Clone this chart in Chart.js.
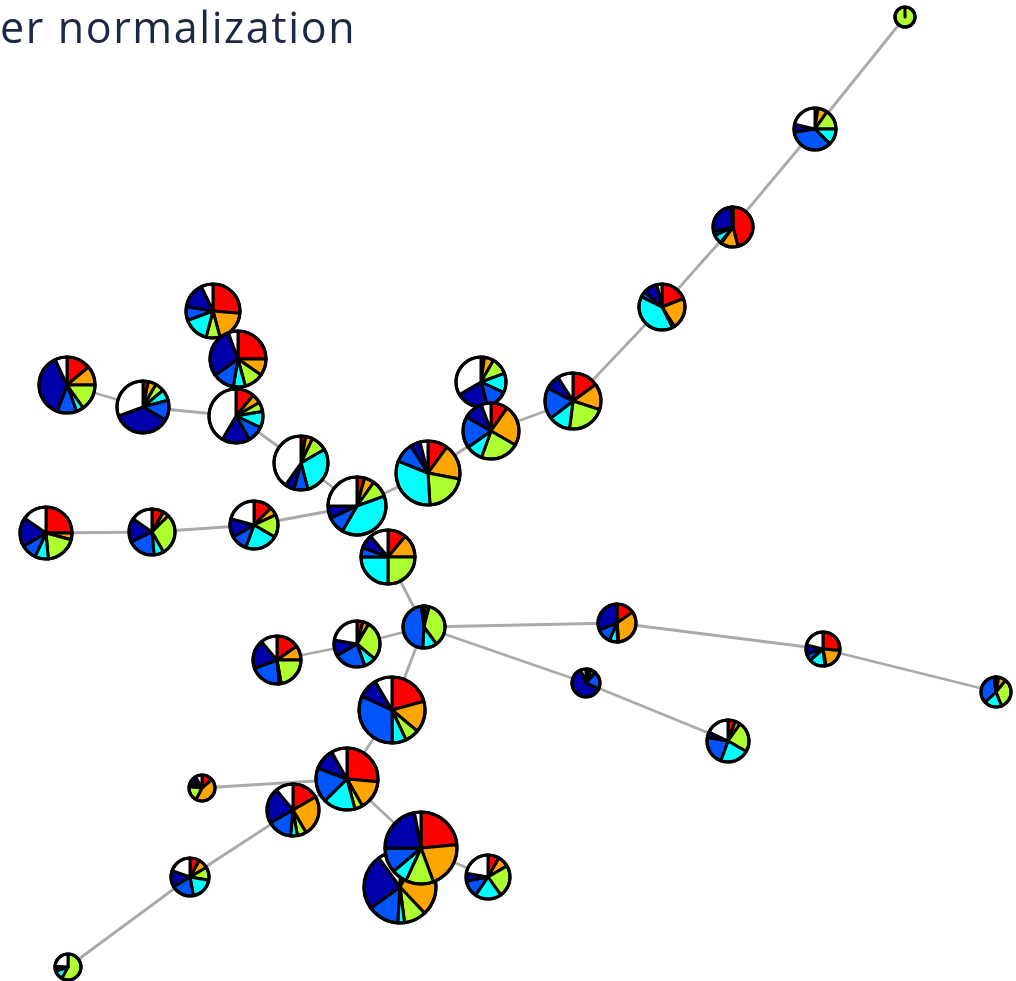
<!DOCTYPE html>
<html>
<head>
<meta charset="utf-8">
<script src="https://cdn.jsdelivr.net/npm/chart.js@4"></script>
<style>
  html, body { margin: 0; padding: 0; background: #fff; overflow: hidden; }
  #wrap { position: relative; width: 1016px; height: 981px; }
  #title {
    position: absolute; left: 0; top: 5px;
    font-family: "Open Sans", "Noto Sans", sans-serif;
    font-size: 43px; line-height: 43px; letter-spacing: 1.6px;
    color: #1c2743; white-space: nowrap;
  }
  canvas { position: absolute; left: 0; top: 0; }
</style>
</head>
<body>
<div id="wrap">
  <canvas id="graph" width="1016" height="981"></canvas>
  <div id="title">er normalization</div>
</div>
<script>
/* global Chart */

// Node layout (in layout units) and node size, one entry per node.
var layoutX = [905, 815, 733, 662, 573, 481, 491, 428, 357, 388, 301, 213, 238, 236, 143, 67, 46, 152, 254,
	424, 357, 277, 392, 617, 823, 996, 586, 728, 347, 202, 293, 400, 421, 488, 190, 68];
var layoutY = [17, 129, 227, 307, 401, 382, 431, 473, 506, 557, 463, 311, 359, 416, 407, 385, 533, 532, 525,
	627, 644, 660, 710, 623, 649, 692, 683, 741, 779, 788, 810, 887, 848, 877, 877, 967];
var nodeSize = [10, 21, 20, 23, 28, 25, 28, 32, 29, 27, 27, 27, 28, 27, 26, 28, 26, 23, 24,
	21, 23, 24, 33, 19, 17, 15, 14, 21, 31, 13, 26, 36, 36, 22, 19, 13];

// Pie composition of each node, one array per group (clockwise from 12 o'clock).
var groupRed = [0, .022, .46, .19, .15, .022, .097, .10, .042, .111, .028, .264, .25, .111, .033, .139, .25, .083, .125,
	.01, .042, .153, .208, .153, .264, .03, .02, .056, .264, .13, .167, .08, .236, .083, .083, 0];
var groupOrange = [0, .075, .14, .22, .15, .061, .236, .18, .056, .139, .042, .194, .097, .056, .05, .111, .042, .042, .056,
	.03, .042, .097, .153, .333, .208, .08, .04, .042, .153, .42, .25, .30, .208, .083, .083, 0];
var groupGreen = [1, .153, .01, .015, .22, .111, .222, .21, .097, .25, .097, .083, .111, .056, .056, .153, .194, .292, .153,
	.36, .278, .222, .069, .01, .01, .33, .05, .236, .042, .18, .056, .10, .125, .236, .111, .58];
var groupCyan = [0, .125, .07, .40, .125, .125, .097, .32, .389, .25, .292, .153, .069, .097, .069, .042, .083, .069, .222,
	.11, .083, .014, .069, .07, .153, .19, .01, .222, .167, .03, .042, .03, .069, .194, .194, .12];
var groupBlue = [0, .353, .035, .04, .18, .139, .181, .10, .097, .056, .083, .083, .125, .097, .125, .111, .097, .194, .111,
	.47, .222, .208, .319, .125, .069, .35, .20, .222, .181, .05, .153, .14, .111, .125, .194, .02];
var groupDarkBlue = [0, .058, .27, .10, .085, .208, .111, .05, .069, .083, .056, .153, .292, .167, .361, .375, .181, .167, .125,
	.01, .111, .194, .097, .309, .083, .01, .62, .042, .111, .06, .222, .25, .222, .056, .139, .04];
var groupWhite = [0, .214, .015, .035, .09, .334, .056, .04, .25, .111, .402, .07, .056, .416, .306, .069, .153, .153, .208,
	.01, .222, .112, .085, 0, .213, .01, .06, .18, .082, .08, .11, .10, .029, .223, .196, .24];

var groupColors = ['#ff0000', '#ffa500', '#adff2f', '#00ffff', '#0055ff', '#0000aa', '#ffffff'];

// Tree edges as pairs of node indices.
var edges = [
	[0, 1], [1, 2], [2, 3], [3, 4], [4, 6], [5, 6], [6, 7], [7, 8], [8, 10], [10, 13], [13, 12], [12, 11],
	[13, 14], [14, 15], [8, 18], [18, 17], [17, 16], [8, 9], [9, 19], [19, 20], [20, 21], [19, 23], [23, 24],
	[24, 25], [19, 26], [26, 27], [19, 22], [22, 28], [28, 29], [28, 30], [30, 34], [34, 35], [28, 32],
	[32, 31], [32, 33]
];

var groups = [groupRed, groupOrange, groupGreen, groupCyan, groupBlue, groupDarkBlue, groupWhite];

var datasets = edges.map( function ( e ) {
	return {
		type: 'scatter',
		showLine: true,
		data: [
			{ x: layoutX[ e[0] ], y: layoutY[ e[0] ] },
			{ x: layoutX[ e[1] ], y: layoutY[ e[1] ] }
		],
		borderColor: '#aaaaaa',
		borderWidth: 2.8,
		pointRadius: 0,
		order: 2
	};
} );

var nodeData = layoutX.map( function ( x, i ) {
	return { x: x, y: layoutY[ i ], r: nodeSize[ i ] };
} );

datasets.push( {
	type: 'bubble',
	data: nodeData,
	backgroundColor: 'rgba(0,0,0,0)',
	borderWidth: 0,
	order: 1
} );
var nodeIndex = datasets.length - 1;

// Draws each bubble as a pie of its group composition.
var piePlugin = {
	id: 'pieNodes',
	afterDatasetsDraw: function ( chart ) {
		var ctx = chart.ctx;
		var meta = chart.getDatasetMeta( nodeIndex );
		ctx.save();
		ctx.strokeStyle = '#000';
		ctx.lineJoin = 'round';
		meta.data.forEach( function ( el, i ) {
			var r = nodeSize[ i ];
			var total = 0;
			groups.forEach( function ( g ) { total += g[ i ]; } );
			var a = -Math.PI / 2;
			ctx.lineWidth = 3;
			groups.forEach( function ( g, k ) {
				var v = g[ i ];
				if ( ! v ) { return; }
				var b = a + ( v / total ) * Math.PI * 2;
				ctx.beginPath();
				ctx.moveTo( el.x, el.y );
				ctx.arc( el.x, el.y, r, a, b );
				ctx.closePath();
				ctx.fillStyle = groupColors[ k ];
				ctx.fill();
				ctx.stroke();
				a = b;
			} );
			ctx.beginPath();
			ctx.arc( el.x, el.y, r, 0, Math.PI * 2 );
			ctx.lineWidth = 3.2;
			ctx.stroke();
		} );
		ctx.restore();
	}
};

new Chart( document.getElementById( 'graph' ), {
	type: 'bubble',
	data: { datasets: datasets },
	options: {
		responsive: false,
		animation: false,
		events: [],
		layout: { padding: 0, autoPadding: false },
		plugins: { legend: { display: false }, tooltip: { enabled: false }, title: { display: false } },
		scales: {
			x: { type: 'linear', min: 0, max: 1016, display: false },
			y: { type: 'linear', min: 0, max: 981, reverse: true, display: false }
		}
	},
	plugins: [ piePlugin ]
} );
</script>
</body>
</html>
